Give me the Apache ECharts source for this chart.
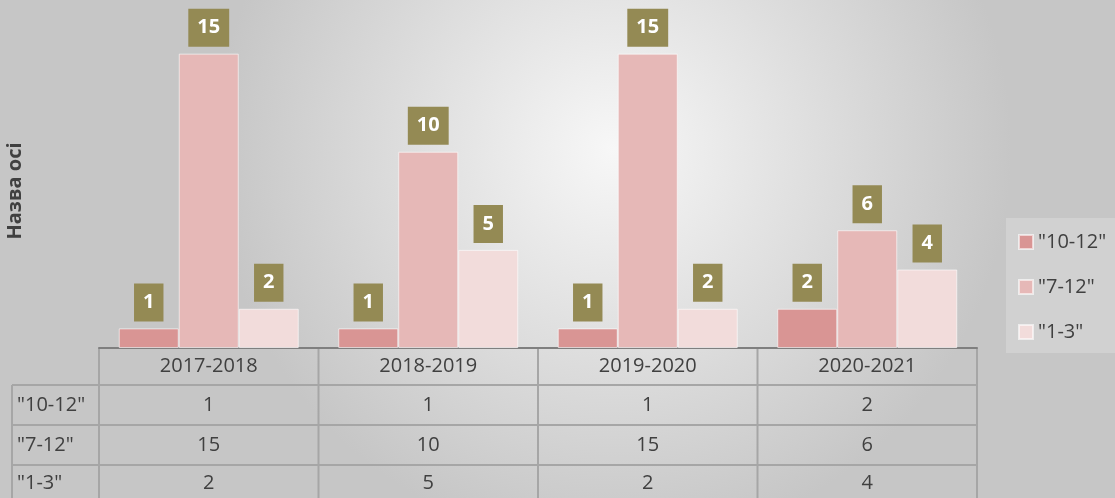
<!DOCTYPE html>
<html>
<head>
<meta charset="utf-8">
<script src="https://cdn.jsdelivr.net/npm/echarts@6/dist/echarts.min.js"></script>
<style>
  html, body { margin: 0; padding: 0; }
  #chart { width: 1115px; height: 498px; }
</style>
</head>
<body>
<div id="chart"></div>
<script>
  // дані
  const years = ['2017-2018', '2018-2019', '2019-2020', '2020-2021']
  const seriesNames = ['"10-12"', '"7-12"', '"1-3"']
  const grade10_12 = [1, 1, 1, 2]
  const grade7_12 = [15, 10, 15, 6]
  const grade1_3 = [2, 5, 2, 4]
  const colors = ['#d99594', '#e6b8b7', '#f2dcdb']

  const allValues = [grade10_12, grade7_12, grade1_3]
  const font = '"Open Sans", sans-serif'

  const chart = echarts.init(document.getElementById('chart'))

  const labelStyle = {
    show: true,
    position: 'top',
    distance: 7,
    backgroundColor: '#948a54',
    color: '#ffffff',
    fontWeight: 'bold',
    fontSize: 20,
    fontFamily: font,
    lineHeight: 22,
    padding: [8, 9, 8, 9]
  }

  const option = {
    backgroundColor: {
      type: 'radial', x: 0.55, y: 0.3, r: 0.8,
      colorStops: [
        { offset: 0, color: '#f7f7f7' },
        { offset: 1, color: '#c6c6c6' }
      ]
    },
    color: colors,
    legend: {
      orient: 'vertical',
      left: 1006,
      top: 218,
      itemWidth: 14,
      itemHeight: 14,
      itemGap: 25,
      padding: [14, 30, 11, 12],
      backgroundColor: 'rgba(255,255,255,0.2)',
      icon: 'rect',
      textStyle: { color: '#404040', fontSize: 20, fontFamily: font },
      data: seriesNames
    },
    grid: { left: 99, right: 138, top: 34, bottom: 150, outerBoundsMode: 'none' },
    xAxis: {
      type: 'category',
      data: years,
      axisLine: { lineStyle: { color: '#7f7f7f', width: 2 } },
      axisTick: { show: false },
      axisLabel: { show: false }
    },
    yAxis: {
      type: 'value',
      min: 0,
      max: 16,
      name: 'Назва осі',
      nameLocation: 'middle',
      nameGap: 74,
      nameTextStyle: { color: '#404040', fontSize: 20, fontWeight: 'bold', fontFamily: font },
      axisLine: { show: false },
      axisTick: { show: false },
      axisLabel: { show: false },
      splitLine: { show: false }
    },
    series: allValues.map((vals, i) => ({
      name: seriesNames[i],
      type: 'bar',
      data: vals,
      barWidth: 60,
      barGap: '0%',
      itemStyle: { borderColor: 'rgba(255,255,255,0.6)', borderWidth: 1 },
      label: labelStyle
    }))
  }

  chart.setOption(option)

  // таблиця даних під віссю
  const axisY = 348
  const rowTops = [348, 385, 425, 465, 505]
  const tableLeft = 12
  const gridLeft = 99
  const gridRight = 977
  const cellW = (gridRight - gridLeft) / years.length
  const lineStyle = { stroke: '#a6a6a6', lineWidth: 2 }
  const graphics = []

  // вертикальні лінії
  for (let i = 0; i <= years.length; i++) {
    const x = gridLeft + i * cellW
    graphics.push({ type: 'line', shape: { x1: x, y1: axisY, x2: x, y2: 498 }, style: lineStyle })
  }
  graphics.push({ type: 'line', shape: { x1: tableLeft, y1: rowTops[1], x2: tableLeft, y2: 498 }, style: lineStyle })
  // горизонтальні лінії
  for (let r = 1; r < 4; r++) {
    graphics.push({ type: 'line', shape: { x1: tableLeft, y1: rowTops[r], x2: gridRight, y2: rowTops[r] }, style: lineStyle })
  }

  const textStyle = (t, x, y, align) => ({
    type: 'text', x: x, y: y,
    style: { text: t, fill: '#404040', font: '20px ' + font, textAlign: align, textVerticalAlign: 'middle' }
  })

  years.forEach((yr, i) => {
    const cx = chart.convertToPixel({ xAxisIndex: 0 }, yr)
    graphics.push(textStyle(yr, cx, (rowTops[0] + rowTops[1]) / 2, 'center'))
    allValues.forEach((vals, r) => {
      graphics.push(textStyle(String(vals[i]), cx, (rowTops[r + 1] + rowTops[r + 2]) / 2 - (r === 2 ? 2 : 0), 'center'))
    })
  })
  seriesNames.forEach((n, r) => {
    graphics.push(textStyle(n, tableLeft + 5, (rowTops[r + 1] + rowTops[r + 2]) / 2 - (r === 2 ? 2 : 0), 'left'))
  })

  chart.setOption({ graphic: graphics })
</script>
</body>
</html>
